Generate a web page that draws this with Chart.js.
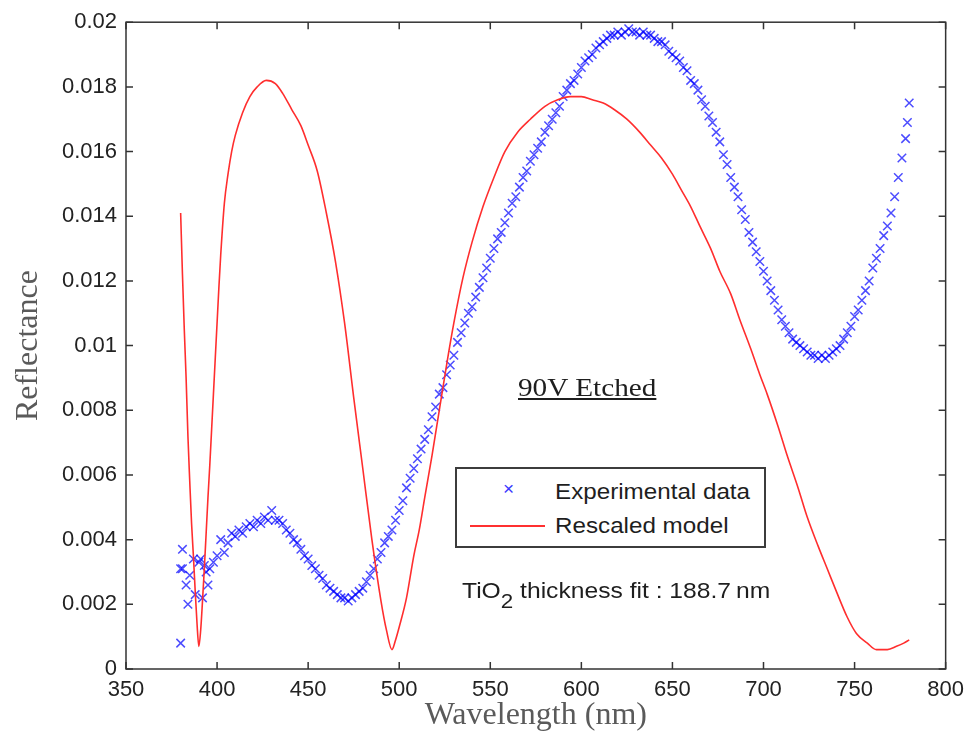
<!DOCTYPE html>
<html>
<head>
<meta charset="utf-8">
<script src="https://cdn.jsdelivr.net/npm/chart.js@4.4.0/dist/chart.umd.min.js"></script>
<style>
  body { margin: 0; background: #fff; }
  #wrap { position: relative; width: 972px; height: 756px; }
  #chart { position: absolute; left: 0; top: 0; }
  .note { position: absolute; white-space: nowrap; color: #1e1e1e; transform-origin: 0 0; }
  #etched { left: 518px; top: 374px; font: 25px 'Liberation Serif', serif; text-decoration: underline; transform: scaleX(1.17); }
  #legend { position: absolute; left: 455px; top: 467px; width: 311px; height: 81px; box-sizing: border-box; border: 2px solid #3c3c3c; background: #fff; }
  #legend .lbl { position: absolute; left: 98px; font: 22px 'Liberation Sans', Arial, sans-serif; color: #1e1e1e; white-space: nowrap; transform-origin: 0 0; transform: scaleX(1.1); }
  #mk { position: absolute; left: 46px; top: 9px; font: 19px 'Liberation Sans', sans-serif; color: #3a3aff; }
  #ln { position: absolute; left: 13px; top: 56px; width: 75px; height: 2px; background: #ff3030; }
  #fit { left: 462px; top: 578px; font: 22px 'Liberation Sans', Arial, sans-serif; transform: scaleX(1.12); }
  #fit sub { font-size: 20px; vertical-align: -10px; line-height: 0; }
</style>
</head>
<body>
<div id="wrap">
  <canvas id="chart" width="972" height="756"></canvas>
  <div class="note" id="etched">90V Etched</div>
  <div id="legend">
    <div id="mk">×</div>
    <div class="lbl" style="top: 10px;">Experimental data</div>
    <div id="ln"></div>
    <div class="lbl" style="top: 44px;">Rescaled model</div>
  </div>
  <div class="note" id="fit">TiO<sub>2</sub> thickness fit : 188.7&#8201;nm</div>
</div>
<script>
'use strict';

// axis ticks
const xTicks = [350, 400, 450, 500, 550, 600, 650, 700, 750, 800];
const yTicks = [0, 0.002, 0.004, 0.006, 0.008, 0.01, 0.012, 0.014, 0.016, 0.018, 0.02];

// experimental data (wavelength nm, reflectance)
const expWl = [
  380, 380, 381, 381, 383, 384, 385, 387, 388, 390,
  391, 392, 393, 394, 395, 396, 398,
  400, 402, 404, 406, 408, 410, 412, 414, 416, 418,
  420, 422, 424, 426, 428, 430, 432, 434, 436, 438,
  440, 442, 444, 446, 448, 450, 452, 454, 456, 458,
  460, 462, 464, 466, 468, 470, 472, 474, 476, 478,
  480, 482, 484, 486, 488, 490, 492, 494, 496, 498,
  500, 502, 504, 506, 508, 510, 512, 514, 516, 518,
  520, 522, 524, 526, 528, 530, 532, 534, 536, 538,
  540, 542, 544, 546, 548, 550, 552, 554, 556, 558,
  560, 562, 564, 566, 568, 570, 572, 574, 576, 578,
  580, 582, 584, 586, 588, 590, 592, 594, 596, 598,
  600, 602, 604, 606, 608, 610, 612, 614, 616, 618,
  620, 622, 624, 626, 628, 630, 632, 634, 636, 638,
  640, 642, 644, 646, 648, 650, 652, 654, 656, 658,
  660, 662, 664, 666, 668, 670, 672, 674, 676, 678,
  680, 682, 684, 686, 688, 690, 692, 694, 696, 698,
  700, 702, 704, 706, 708, 710, 712, 714, 716, 718,
  720, 722, 724, 726, 728, 730, 732, 734, 736, 738,
  740, 742, 744, 746, 748, 750, 752, 754, 756, 758,
  760, 762, 764, 766, 768, 770, 772, 774, 776, 778,
  779, 780
];
const expR = [
  0.0031, 0.0008, 0.0037, 0.0031, 0.0026, 0.0020, 0.0029, 0.0034, 0.0023, 0.0033,
  0.0034, 0.0022, 0.0032, 0.0030, 0.0026, 0.0031, 0.0033,
  0.0035, 0.0040, 0.0036, 0.0039, 0.0042, 0.0041, 0.0043, 0.0042, 0.0044, 0.0045,
  0.0044, 0.0046, 0.0045, 0.0047, 0.0046, 0.0049, 0.0046, 0.0046, 0.0045, 0.0043,
  0.0042, 0.0040, 0.0039, 0.0037, 0.0035, 0.0034, 0.0032, 0.0031, 0.0029, 0.0028,
  0.0026, 0.0025, 0.0024, 0.0023, 0.0022, 0.0022, 0.0021, 0.0022, 0.0023, 0.0024,
  0.0025, 0.0027, 0.0029, 0.0031, 0.0034, 0.0036, 0.0039, 0.0041, 0.0043, 0.0046,
  0.0049, 0.0052, 0.0056, 0.0059, 0.0062, 0.0065, 0.0068, 0.0071, 0.0074, 0.0078,
  0.0081, 0.0085, 0.0087, 0.0091, 0.0094, 0.0097, 0.0101, 0.0104, 0.0107, 0.0110,
  0.0112, 0.0115, 0.0118, 0.0121, 0.0124, 0.0127, 0.0130, 0.0133, 0.0135, 0.0138,
  0.0141, 0.0144, 0.0146, 0.0149, 0.0152, 0.0154, 0.0157, 0.0159, 0.0161, 0.0163,
  0.0166, 0.0168, 0.0170, 0.0172, 0.0174, 0.0177, 0.0179, 0.0181, 0.0182, 0.0184,
  0.0186, 0.0188, 0.0189, 0.0190, 0.0192, 0.0193, 0.0194, 0.0195, 0.0196, 0.0196,
  0.0197, 0.0196, 0.0197, 0.0198, 0.0197, 0.0197, 0.0196, 0.0197, 0.0196, 0.0196,
  0.0195, 0.0194, 0.0194, 0.0193, 0.0191, 0.0190, 0.0189, 0.0188, 0.0186, 0.0185,
  0.0182, 0.0181, 0.0179, 0.0176, 0.0174, 0.0171, 0.0169, 0.0166, 0.0163, 0.0159,
  0.0156, 0.0152, 0.0149, 0.0146, 0.0142, 0.0139, 0.0135, 0.0132, 0.0129, 0.0126,
  0.0123, 0.0120, 0.0117, 0.0114, 0.0111, 0.0108, 0.0106, 0.0104, 0.0102, 0.0101,
  0.0100, 0.0099, 0.0098, 0.0097, 0.0097, 0.0096, 0.0097, 0.0096, 0.0097, 0.0098,
  0.0099, 0.0100, 0.0102, 0.0104, 0.0106, 0.0109, 0.0111, 0.0114, 0.0117, 0.0120,
  0.0124, 0.0127, 0.0130, 0.0134, 0.0137, 0.0141, 0.0146, 0.0152, 0.0158, 0.0164,
  0.0169, 0.0175
];

// rescaled model curve
const modWl = [
  380, 381, 382, 383, 384, 385, 386, 387, 388, 389,
  390, 391, 392, 393, 394, 395, 396, 397, 398, 399,
  400, 401, 402, 404, 406, 408, 410, 414, 418, 422,
  427, 432, 436, 441, 446, 450, 455, 460, 465, 470,
  475, 480, 485, 490, 493, 496, 498, 500, 504, 508,
  511, 514, 518, 522, 526, 530, 535, 540, 546, 552,
  558, 565, 572, 580, 587, 594, 600, 606, 612, 618,
  625, 632, 638, 644, 650, 655, 660, 665, 671, 676,
  682, 687, 693, 698, 702, 708, 713, 719, 724, 730,
  735, 740, 746, 751, 757, 762, 768, 773, 777, 780
];
const modR = [
  0.0141, 0.0122, 0.0105, 0.0090, 0.0072, 0.0058, 0.0045, 0.0035, 0.0024, 0.0014,
  0.0007, 0.0012, 0.0021, 0.0031, 0.0042, 0.0053, 0.0063, 0.0074, 0.0085, 0.0096,
  0.0107, 0.0118, 0.0128, 0.0144, 0.0153, 0.0160, 0.0165, 0.0172, 0.0177, 0.0180,
  0.0182, 0.0181, 0.0178, 0.0173, 0.0168, 0.0162, 0.0154, 0.0141, 0.0126, 0.0107,
  0.0084, 0.0062, 0.0040, 0.0021, 0.0012, 0.0006, 0.0009, 0.0013, 0.0022, 0.0035,
  0.0043, 0.0053, 0.0066, 0.0080, 0.0094, 0.0107, 0.0121, 0.0132, 0.0143, 0.0152,
  0.0160, 0.0166, 0.0170, 0.0174, 0.0176, 0.0177, 0.0177, 0.0176, 0.0175, 0.0173,
  0.0170, 0.0166, 0.0162, 0.0158, 0.0153, 0.0148, 0.0143, 0.0137, 0.0130, 0.0123,
  0.0116, 0.0108, 0.0099, 0.0091, 0.0085, 0.0075, 0.0066, 0.0056, 0.0047, 0.0038,
  0.0031, 0.0024, 0.0016, 0.0011, 0.0008, 0.0006, 0.0006, 0.0007, 0.0008, 0.0009
];

const tickFont = { family: "'Liberation Sans', Arial, sans-serif", size: 22 };
const titleFont = { family: "'Liberation Serif', 'Times New Roman', serif", size: 32 };

// box round the plot + inward ticks on all four sides
const frame = {
  id: 'frame',
  afterDatasetsDraw( chart ) {
    const { ctx, chartArea: a, scales: { x, y } } = chart;
    ctx.save();
    ctx.strokeStyle = '#333';
    ctx.lineWidth = 1.5;
    ctx.strokeRect( a.left, a.top, a.right - a.left, a.bottom - a.top );
    ctx.beginPath();
    for ( let i = 0; i < x.ticks.length; i++ ) {
      const px = x.getPixelForValue( x.ticks[i].value );
      ctx.moveTo( px, a.bottom ); ctx.lineTo( px, a.bottom - 7 );
      ctx.moveTo( px, a.top ); ctx.lineTo( px, a.top + 7 );
    }
    for ( let i = 0; i < y.ticks.length; i++ ) {
      const py = y.getPixelForValue( y.ticks[i].value );
      ctx.moveTo( a.left, py ); ctx.lineTo( a.left + 7, py );
      ctx.moveTo( a.right, py ); ctx.lineTo( a.right - 7, py );
    }
    ctx.stroke();
    ctx.restore();
  }
};

let ctx = document.getElementById( 'chart' ).getContext( '2d' );
let myChart = new Chart( ctx, {
  type: 'scatter',
  data: {
    datasets: [{
      label: 'Experimental data',
      data: expWl.map( ( w, i ) => ( { x: w, y: expR[i] } ) ),
      pointStyle: 'crossRot',
      pointRadius: 6,
      borderColor: 'rgba(0, 0, 255, 0.7)',
      pointBorderWidth: 1.5,
      showLine: false,
      order: 2
    }, {
      label: 'Rescaled model',
      data: modWl.map( ( w, i ) => ( { x: w, y: modR[i] } ) ),
      showLine: true,
      pointRadius: 0,
      borderColor: '#ff2e2e',
      borderWidth: 1.6,
      cubicInterpolationMode: 'monotone',
      order: 1
    }]
  },
  options: {
    responsive: false,
    animation: false,
    layout: { padding: { top: 21, right: 25, left: 0, bottom: 0 } },
    plugins: { legend: { display: false }, tooltip: { enabled: false } },
    scales: {
      x: {
        type: 'linear',
        min: 350,
        max: 800,
        afterBuildTicks: s => { s.ticks = xTicks.map( v => ( { value: v } ) ); },
        afterFit: s => { s.height = 87; },
        grid: { display: false, drawTicks: false },
        border: { display: false },
        ticks: { font: tickFont, color: '#222', padding: 8, maxRotation: 0, autoSkip: false },
        title: { display: true, text: 'Wavelength (nm)', font: titleFont, color: '#5a5a5a', padding: { top: 0, bottom: 21 } }
      },
      y: {
        min: 0,
        max: 0.02,
        afterBuildTicks: s => { s.ticks = yTicks.map( v => ( { value: v } ) ); },
        afterFit: s => { s.width = 126; },
        grid: { display: false, drawTicks: false },
        border: { display: false },
        ticks: { font: tickFont, color: '#222', padding: 9, callback: v => String( +v.toFixed( 4 ) ) },
        title: { display: true, text: 'Reflectance', font: titleFont, color: '#5a5a5a', padding: { top: 9, bottom: 0 } }
      }
    }
  },
  plugins: [frame]
} );
</script>
</body>
</html>
